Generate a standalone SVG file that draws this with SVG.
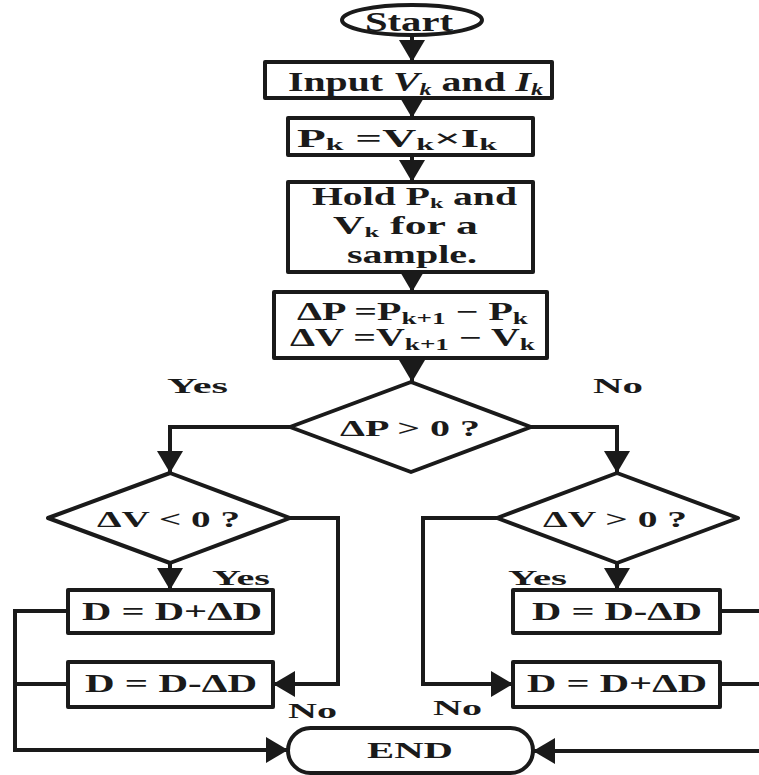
<svg xmlns="http://www.w3.org/2000/svg" width="759" height="775" viewBox="0 0 759 775">
  <style>
    .shape { fill: #fff; stroke: #1a1a1a; stroke-width: 4; stroke-linejoin: round; }
    .wire { fill: none; stroke: #1a1a1a; stroke-width: 4; stroke-linejoin: miter; }
    .arr { marker-end: url(#head); }
    text { font-family: "Liberation Serif", "Times New Roman", serif; font-weight: bold; fill: #1a1a1a; }
    .t28 { font-size: 28px; }
    .t25 { font-size: 25px; }
    .t24 { font-size: 24px; }
    .lbl { font-size: 22px; }
    .sub { font-size: 17px; }
    .sub2 { font-size: 15px; }
    .it { font-style: italic; }
  </style>
  <defs>
    <marker id="head" viewBox="0 0 22 26" refX="22" refY="13" markerWidth="22" markerHeight="26" markerUnits="userSpaceOnUse" orient="auto">
      <path d="M0,0 L22,13 L0,26 Z" fill="#1a1a1a"/>
    </marker>
  </defs>

  <!-- connectors -->
  <g id="connectors">
    <line class="wire arr" x1="412" y1="35" x2="412" y2="62"/>
    <line class="wire arr" x1="412" y1="98" x2="412" y2="118"/>
    <line class="wire arr" x1="412" y1="155" x2="412" y2="182"/>
    <line class="wire arr" x1="412" y1="272" x2="412" y2="292"/>
    <line class="wire arr" x1="412" y1="358" x2="412" y2="382"/>
    <!-- decision 1 branches -->
    <polyline class="wire arr" points="290,427 170,427 170,473"/>
    <polyline class="wire arr" points="531,427 617,427 617,473"/>
    <!-- left decision -->
    <line class="wire arr" x1="170" y1="563" x2="170" y2="590"/>
    <polyline class="wire arr" points="290,518 338,518 338,684 273,684"/>
    <!-- right decision -->
    <line class="wire arr" x1="617" y1="563" x2="617" y2="590"/>
    <polyline class="wire arr" points="497,518 423,518 423,684 513,684"/>
    <!-- left return bus -->
    <polyline class="wire arr" points="68,611 15,611 15,750 288,750"/>
    <line class="wire" x1="68" y1="684" x2="15" y2="684"/>
    <!-- right return bus -->
    <line class="wire" x1="720" y1="611" x2="761" y2="611"/>
    <line class="wire" x1="720" y1="684" x2="761" y2="684"/>
    <line class="wire arr" x1="761" y1="751" x2="533" y2="751"/>
  </g>

  <g id="start">
    <ellipse class="shape" cx="412" cy="20" rx="70" ry="15"/>
    <text class="t28" x="365" y="31" textLength="88" lengthAdjust="spacingAndGlyphs">Start</text>
  </g>

  <g id="input">
    <rect class="shape" x="265" y="62" width="287" height="36"/>
    <text class="t28" x="288" y="91" textLength="255" lengthAdjust="spacingAndGlyphs">Input <tspan class="it">V</tspan><tspan class="it sub" dy="4">k</tspan><tspan dy="-4"> and </tspan><tspan class="it">I</tspan><tspan class="it sub" dy="4">k</tspan></text>
  </g>

  <g id="power">
    <rect class="shape" x="288" y="118" width="245" height="37"/>
    <text class="t25" x="297" y="147" textLength="200" lengthAdjust="spacingAndGlyphs">P<tspan class="sub" dy="3">k</tspan><tspan dy="-3"> =V</tspan><tspan class="sub" dy="3">k</tspan><tspan dy="-3">×I</tspan><tspan class="sub" dy="3">k</tspan></text>
  </g>

  <g id="hold">
    <rect class="shape" x="288" y="182" width="245" height="90"/>
    <text class="t25" x="312" y="205" textLength="205" lengthAdjust="spacingAndGlyphs">Hold P<tspan class="sub2" dy="3">k</tspan><tspan dy="-3"> and</tspan></text>
    <text class="t25" x="333" y="234" textLength="145" lengthAdjust="spacingAndGlyphs">V<tspan class="sub2" dy="3">k</tspan><tspan dy="-3"> for a</tspan></text>
    <text class="t25" x="347" y="263" textLength="130" lengthAdjust="spacingAndGlyphs">sample.</text>
  </g>

  <g id="delta">
    <rect class="shape" x="274" y="292" width="273" height="66"/>
    <text class="t25" x="297" y="320" textLength="231" lengthAdjust="spacingAndGlyphs">ΔP =P<tspan class="sub" dy="4">k+1</tspan><tspan dy="-4"> − P</tspan><tspan class="sub" dy="4">k</tspan></text>
    <text class="t25" x="290" y="346" textLength="245" lengthAdjust="spacingAndGlyphs">ΔV =V<tspan class="sub" dy="4">k+1</tspan><tspan dy="-4"> − V</tspan><tspan class="sub" dy="4">k</tspan></text>
  </g>

  <g id="decision-dp">
    <polygon class="shape" points="411,382 531,427 411,472 290,427"/>
    <text class="t24" x="340" y="436" textLength="140" lengthAdjust="spacingAndGlyphs">ΔP &gt; 0 ?</text>
  </g>

  <g id="decision-dv-neg">
    <polygon class="shape" points="170,473 290,518 170,563 48,518"/>
    <text class="t24" x="97" y="527" textLength="143" lengthAdjust="spacingAndGlyphs">ΔV &lt; 0 ?</text>
  </g>

  <g id="decision-dv-pos">
    <polygon class="shape" points="617,473 738,518 617,563 497,518"/>
    <text class="t24" x="543" y="527" textLength="144" lengthAdjust="spacingAndGlyphs">ΔV &gt; 0 ?</text>
  </g>

  <g id="inc-left">
    <rect class="shape" x="68" y="590" width="205" height="43"/>
    <text class="t25" x="82" y="620" textLength="180" lengthAdjust="spacingAndGlyphs">D = D+ΔD</text>
  </g>

  <g id="dec-left">
    <rect class="shape" x="68" y="662" width="205" height="45"/>
    <text class="t25" x="85" y="692" textLength="172" lengthAdjust="spacingAndGlyphs">D = D-ΔD</text>
  </g>

  <g id="dec-right">
    <rect class="shape" x="513" y="590" width="207" height="43"/>
    <text class="t25" x="532" y="620" textLength="170" lengthAdjust="spacingAndGlyphs">D = D-ΔD</text>
  </g>

  <g id="inc-right">
    <rect class="shape" x="513" y="662" width="207" height="45"/>
    <text class="t25" x="527" y="692" textLength="180" lengthAdjust="spacingAndGlyphs">D = D+ΔD</text>
  </g>

  <g id="end">
    <rect class="shape" x="288" y="728" width="245" height="45" rx="22.5"/>
    <text class="t24" x="367" y="758" textLength="86" lengthAdjust="spacingAndGlyphs">END</text>
  </g>

  <!-- branch labels -->
  <g id="labels">
    <text class="lbl" x="167" y="393" textLength="61" lengthAdjust="spacingAndGlyphs">Yes</text>
    <text class="lbl" x="593" y="393" textLength="50" lengthAdjust="spacingAndGlyphs">No</text>
    <text class="lbl" x="212" y="585" textLength="58" lengthAdjust="spacingAndGlyphs">Yes</text>
    <text class="lbl" x="508" y="585" textLength="59" lengthAdjust="spacingAndGlyphs">Yes</text>
    <text class="lbl" x="288" y="718" textLength="49" lengthAdjust="spacingAndGlyphs">No</text>
    <text class="lbl" x="433" y="715" textLength="49" lengthAdjust="spacingAndGlyphs">No</text>
  </g>
</svg>
